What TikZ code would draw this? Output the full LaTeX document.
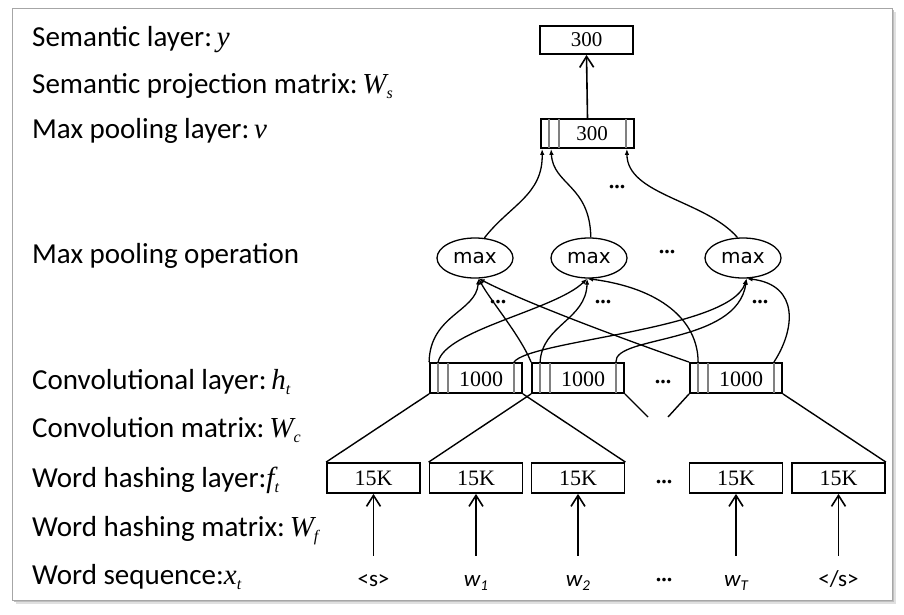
\documentclass[tikz,border=0pt]{standalone}
\usepackage{fontspec}
\setmainfont{Carlito}
\newfontfamily\tms{Liberation Serif}
\newfontfamily\djv{DejaVu Sans}
\usetikzlibrary{arrows.meta,shapes.geometric}
\newcommand\msub[2]{{\tms\itshape #1\raisebox{-5pt}{\fontsize{16}{16}\selectfont #2}}}
\newcommand\wsub[2]{{\itshape #1\raisebox{-4pt}{\fontsize{15}{15}\selectfont #2}}}
\begin{document}
\begin{tikzpicture}[x=1pt,y=-1pt,
  lbl/.style={anchor=base west, inner sep=0pt, font=\fontsize{29}{31}\selectfont},
  layerbox/.style={draw, line width=1.8pt, minimum width=93pt, minimum height=30pt, inner sep=0pt, font=\tms\fontsize{22}{23}\selectfont},
  numtxt/.style={inner sep=0pt, font=\tms\fontsize{22}{23}\selectfont},
  maxnode/.style={draw, ellipse, line width=1.3pt, minimum width=76pt, minimum height=40pt, inner sep=0pt, font=\djv\fontsize{20}{21}\selectfont},
  cell/.style={black!50, line width=1.4pt, shorten <=1pt, shorten >=1pt},
  conn/.style={line width=1.4pt},
  inarr/.style={line width=1.3pt, -{Latex[length=6pt,width=4.5pt]}},
  uparr/.style={line width=1.6pt, -{Straight Barb[length=11pt,width=14pt]}},
  word/.style={inner sep=0pt, text height=17pt, text depth=5pt, font=\fontsize{23}{25}\selectfont},
  dots/.style={inner sep=0pt, font=\tms\bfseries\fontsize{22}{22}\selectfont}
]
\useasboundingbox (0,0) rectangle (904,615);
% frame with shadow
\fill[black!12] (16,12) rectangle (896,604);
\fill[black!25] (14,10) rectangle (894,602);
\draw[black!35, fill=white, line width=0.8pt] (12,8) rectangle (892,600);

% left labels
\node[lbl] (L1) at (32,47) {Semantic layer:\,{\tms\itshape y}};
\node[lbl] (L2) at (32,94) {Semantic projection matrix:\,\msub{W}{s}};
\node[lbl] (L3) at (32,139) {Max pooling layer:\,{\tms\itshape v}};
\node[lbl] (L4) at (32,263) {Max pooling operation};
\node[lbl] (L5) at (32,389) {Convolutional layer:\,\msub{h}{t}};
\node[lbl] (L6) at (32,437) {Convolution matrix:\,\msub{W}{c}};
\node[lbl] (L7) at (32,487) {Word hashing layer:\msub{f}{t}};
\node[lbl] (L8) at (32,536) {Word hashing matrix:\,\msub{W}{f}};
\node[lbl] (L9) at (32,584) {Word sequence:\msub{x}{t}};

% semantic layer and max pooling layer
\node[layerbox, minimum height=28pt, font=\tms\fontsize{21}{21}\selectfont] (ylay) at (586.5,40) {300};
\node[layerbox, minimum height=29pt] (vlay) at (587.5,133.5) {};
\node[numtxt, font=\tms\fontsize{21}{21}\selectfont] (vtxt) at (592,134) {300};

% max pooling operation
\node[maxnode] (m1) at (475,258) {max};
\node[maxnode] (m2) at (589,258) {max};
\node[maxnode] (m3) at (743,258) {max};

% convolutional layer
\node[layerbox, minimum width=92pt] (c1) at (476,378) {};
\node[layerbox, minimum width=92pt] (c2) at (578,378) {};
\node[layerbox, minimum width=92pt] (c3) at (736,378) {};
\node[numtxt] (t1) at (481,379) {1000};
\node[numtxt] (t2) at (583,379) {1000};
\node[numtxt] (t3) at (741,379) {1000};

% cell lines
\foreach \b in {vlay,c1,c2,c3}{
  \draw[cell] ([xshift=9pt]\b.north west) -- ([xshift=9pt]\b.south west);
  \draw[cell] ([xshift=19pt]\b.north west) -- ([xshift=19pt]\b.south west);
  \draw[cell] ([xshift=-9pt]\b.north east) -- ([xshift=-9pt]\b.south east);
}

% word hashing layer
\node[layerbox] (h1) at (373.5,478) {15K};
\node[layerbox] (h2) at (476,478) {15K};
\node[layerbox] (h3) at (578,478) {15K};
\node[layerbox] (h4) at (736,478) {15K};
\node[layerbox] (h5) at (838.5,478) {15K};

% words
\node[word] (w0) at (373.5,580) {<s>};
\node[word] (w1) at (476,580) {\wsub{w}{1}};
\node[word] (w2) at (578,580) {\wsub{w}{2}};
\node[word] (w4) at (736,580) {\wsub{w}{T}};
\node[word] (w5) at (838.5,580) {</s>};

% dots
\node[dots] (d1) at (617,187) {...};
\node[dots] (d2) at (667,252) {...};
\node[dots] (d3) at (498,302) {...};
\node[dots] (d4) at (603,302) {...};
\node[dots] (d5) at (760,302) {...};
\node[dots] (d6) at (663,382) {...};
\node[dots] (d7) at (664,482) {...};
\node[dots] (d8) at (664,580) {...};

% arrows from words
\foreach \w/\h in {w0/h1,w1/h2,w2/h3,w4/h4,w5/h5}{
  \draw[uparr, shorten <=13pt] (\w.north) -- (\h.south);
}
\draw[uparr] (vlay.north) -- (ylay.south);

% convolution windows
\coordinate (e2) at (648,417);
\coordinate (e3) at (668,417);
\draw[conn] (c1.south west) -- (h1.north west);
\draw[conn] (c1.south east) -- (h3.north east);
\draw[conn] (c2.south west) -- (h2.north west);
\draw[conn] (c2.south east) -- (e2);
\draw[conn] (c3.south west) -- (e3);
\draw[conn] (c3.south east) -- (h5.north east);

% max -> max pooling layer
\draw[inarr] (m1.65) .. controls (510,205) and (543,195) .. ([xshift=2pt]vlay.south west);
\draw[inarr] (m2.85) .. controls (590,185) and (553,185) .. ([xshift=11pt]vlay.south west);
\draw[inarr] (m3.105) .. controls (705,200) and (627,195) .. ([xshift=-8pt]vlay.south east);

% conv -> max
\draw[inarr] (c1.north west) .. controls (430,315) and (476,312) .. (m1.280);
\draw[inarr] (c2.north west) .. controls (520,335) and (490,300) .. (m1.280);
\draw[inarr] (c3.north west) .. controls (640,345) and (530,305) .. (m1.280);

\draw[inarr] ([xshift=9pt]c1.north west) .. controls (445,330) and (555,310) .. (m2.265);
\draw[inarr] ([xshift=9pt]c2.north west) .. controls (542,325) and (586,320) .. (m2.265);
\draw[inarr] ([xshift=9pt]c3.north west) .. controls (698,320) and (660,288) .. (m2.265);

\draw[inarr] ([xshift=-9pt]c1.north east) .. controls (530,340) and (730,330) .. (m3.280);
\draw[inarr] ([xshift=-9pt]c2.north east) .. controls (614,335) and (737,345) .. (m3.280);
\draw[inarr] ([xshift=-9pt]c3.north east) .. controls (795,330) and (800,285) .. (m3.280);
\end{tikzpicture}
\end{document}
